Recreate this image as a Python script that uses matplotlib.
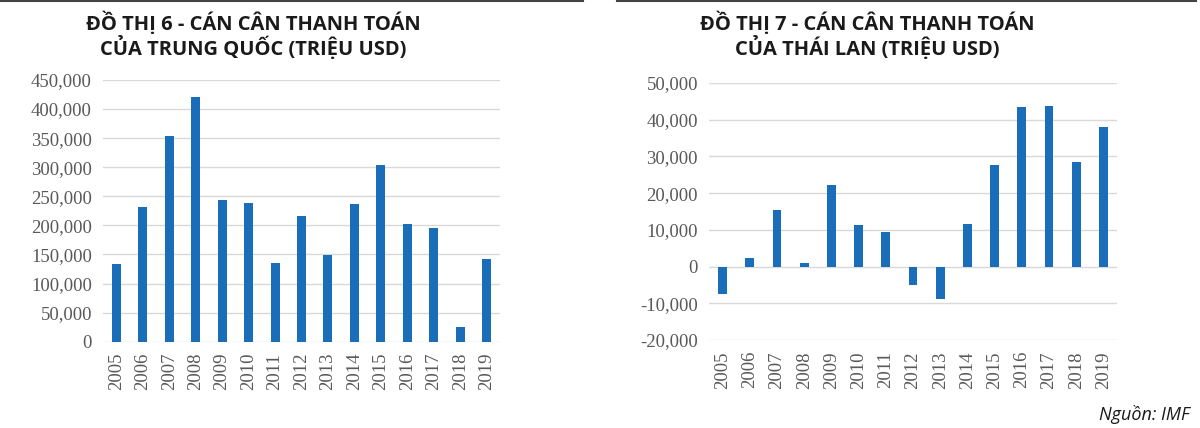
import matplotlib
matplotlib.use("Agg")
import matplotlib.pyplot as plt
from matplotlib.ticker import FuncFormatter
from matplotlib.lines import Line2D

years = ["2005", "2006", "2007", "2008", "2009", "2010", "2011", "2012",
         "2013", "2014", "2015", "2016", "2017", "2018", "2019"]
china = [133000, 232000, 353000, 421000, 243000, 238000, 136000, 216000,
         149000, 236000, 304000, 202000, 195000, 26000, 142000]
thailand = [-7600, 2300, 15500, 900, 22100, 11400, 9400, -4900,
            -8800, 11500, 27700, 43400, 43800, 28400, 38100]

title_china = ["ĐỒ THỊ 6 - CÁN CÂN THANH TOÁN", "CỦA TRUNG QUỐC (TRIỆU USD)"]
title_thai = ["ĐỒ THỊ 7 - CÁN CÂN THANH TOÁN", "CỦA THÁI LAN (TRIỆU USD)"]
source = "Nguồn: IMF"

W, H = 1200, 428
fig = plt.figure(figsize=(W / 100, H / 100), dpi=100)
fig.patch.set_facecolor("white")

BAR = "#1a6eb9"
GRID = "#d9d9d9"
TICK = "#595959"
SERIF = ["Liberation Serif", "DejaVu Serif"]


def px_axes(x0, x1, ytop, ybot):
    return fig.add_axes([x0 / W, 1 - ybot / H, (x1 - x0) / W, (ybot - ytop) / H])


def style(ax, ylim, yticks):
    x = range(len(years))
    ax.set_xlim(-0.5, len(years) - 0.5)
    ax.set_ylim(*ylim)
    ax.set_yticks(yticks)
    ax.yaxis.set_major_formatter(FuncFormatter(lambda v, p: f"{int(v):,}"))
    ax.set_xticks(list(x))
    ax.set_xticklabels(years, rotation=90)
    for s in ax.spines.values():
        s.set_visible(False)
    ax.grid(axis="y", color=GRID, linewidth=1.0)
    ax.set_axisbelow(True)
    ax.tick_params(axis="both", length=0, colors=TICK, labelsize=13.5)
    ax.tick_params(axis="y", pad=8)
    ax.tick_params(axis="x", pad=8)
    for lab in ax.get_xticklabels() + ax.get_yticklabels():
        lab.set_family(SERIF)
        lab.set_color(TICK)


ax1 = px_axes(103, 500, 80, 341.7)
ax1.bar(range(len(years)), china, width=0.34, color=BAR, zorder=3)
style(ax1, (0, 450000), list(range(0, 450001, 50000)))

ax2 = px_axes(709, 1117, 83, 340)
ax2.bar(range(len(years)), thailand, width=0.33, color=BAR, zorder=3)
style(ax2, (-20000, 50000), list(range(-20000, 50001, 10000)))

TF = ["Open Sans", "DejaVu Sans"]
for cx, lines in ((253, title_china), (867, title_thai)):
    for i, t in enumerate(lines):
        fig.text(cx / W, 1 - (30 + 25 * i) / H, t, ha="center", va="baseline",
                 fontsize=14.5, fontweight="bold", family=TF, color="#1a1a1a")

fig.add_artist(Line2D([0 / W, 583 / W], [1 - 0.8 / H, 1 - 0.8 / H], color="#444444", linewidth=1.5))
fig.add_artist(Line2D([617 / W, 1196 / W], [1 - 0.8 / H, 1 - 0.8 / H], color="#444444", linewidth=1.5))

fig.text(1190 / W, 1 - 414 / H, source, ha="right", va="center", fontsize=13,
         style="italic", family=["Open Sans", "DejaVu Sans"], color="#1a1a1a")

fig.savefig("out.png", dpi=100, facecolor="white")
